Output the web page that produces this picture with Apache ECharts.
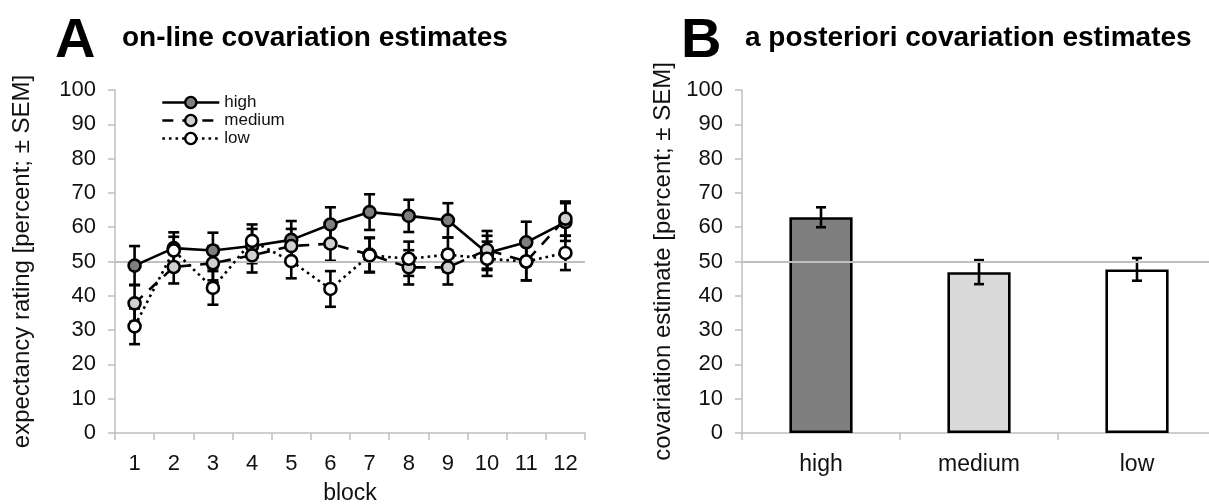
<!DOCTYPE html>
<html><head><meta charset="utf-8">
<script src="https://cdn.jsdelivr.net/npm/echarts@6/dist/echarts.min.js"></script>
<style>html,body{margin:0;padding:0;background:#fff}#c{width:1209px;height:504px}</style>
</head><body><div id="c"></div>
<script>
const blocks = ['1','2','3','4','5','6','7','8','9','10','11','12'];
const high = [48.8, 53.9, 53.2, 54.5, 56.3, 60.8, 64.4, 63.3, 62.0, 52.5, 55.6, 61.5];
const highErr = [5.7, 4.6, 5.2, 5.0, 5.5, 5.0, 5.2, 4.7, 5.0, 5.0, 6.0, 5.5];
const medium = [37.8, 48.4, 49.5, 51.8, 54.5, 55.2, 52.0, 48.3, 48.3, 53.4, 50.0, 62.5];
const mediumErr = [5.4, 4.8, 5.0, 5.0, 5.0, 5.0, 5.0, 5.0, 5.0, 5.5, 5.5, 5.0];
const low = [31.1, 53.2, 42.3, 56.0, 50.1, 42.0, 51.8, 50.8, 52.0, 50.8, 50.0, 52.5];
const lowErr = [5.2, 4.0, 4.9, 4.8, 5.0, 5.2, 5.0, 5.0, 5.0, 5.0, 5.5, 5.0];
const barCats = ['high','medium','low'];
const barVals = [62.9, 46.9, 47.7];
const barErr = [2.9, 3.5, 3.3];
const yTicks = [0,10,20,30,40,50,60,70,80,90,100];

const FONT = 'Liberation Sans, Arial, sans-serif';
const AX = '#bfbfbf';
const chart = echarts.init(document.getElementById('c'), null, {renderer:'canvas'});

function errData(vals, errs){ return vals.map((v,i)=>[i, v-errs[i], v+errs[i]]); }
function errSeries(vals, errs, xi, cap){
  return {
    type:'custom', xAxisIndex:xi, yAxisIndex:xi, z:3, silent:true,
    data: errData(vals, errs), encode:{x:0, y:[1,2]},
    renderItem: function(params, api){
      const x = api.value(0);
      const p1 = api.coord([x, api.value(1)]);
      const p2 = api.coord([x, api.value(2)]);
      const st = {stroke:'#000', lineWidth:2.6};
      return {type:'group', children:[
        {type:'line', shape:{x1:p1[0],y1:p1[1],x2:p2[0],y2:p2[1]}, style:st},
        {type:'line', shape:{x1:p1[0]-cap,y1:p1[1],x2:p1[0]+cap,y2:p1[1]}, style:st},
        {type:'line', shape:{x1:p2[0]-cap,y1:p2[1],x2:p2[0]+cap,y2:p2[1]}, style:st}
      ]};
    }
  };
}
function lineSeries(name, vals, fill, type){
  return {
    name, type:'line', xAxisIndex:0, yAxisIndex:0, data: vals, z:5,
    symbol:'circle', symbolSize:12,
    itemStyle:{color:fill, borderColor:'#000', borderWidth:2.6},
    lineStyle:{color:'#000', width:2.6, type:type},
    emphasis:{disabled:true}
  };
}
const yAxisCommon = {
  type:'value', min:0, max:100, interval:10,
  axisLine:{show:true, lineStyle:{color:AX, width:1.5}},
  axisTick:{show:true, length:7, lineStyle:{color:AX, width:1.5}},
  axisLabel:{color:'#111', fontSize:22, fontFamily:FONT, margin:19},
  splitLine:{show:false},
  nameLocation:'middle', nameRotate:90,
  nameTextStyle:{color:'#111', fontSize:24, fontFamily:FONT}
};
const ref50 = {silent:true, symbol:'none', label:{show:false},
  lineStyle:{color:AX, width:1.8, type:'solid'}, data:[{yAxis:50}]};

chart.setOption({
  animation:false,
  graphic:[
    {type:'text', left:55, top:14, style:{text:'A', font:'bold 56px '+FONT, fill:'#000'}},
    {type:'text', left:122, top:24, style:{text:'on-line covariation estimates', font:'bold 28px '+FONT, fill:'#000'}},
    {type:'text', left:681, top:14, style:{text:'B', font:'bold 56px '+FONT, fill:'#000'}},
    {type:'text', left:745, top:24, style:{text:'a posteriori covariation estimates', font:'bold 28px '+FONT, fill:'#000'}}
  ],
  legend:{
    data:['high','medium','low'], orient:'vertical', left:156, top:89,
    itemWidth:57, itemHeight:14, itemGap:1,
    lineStyle:{width:2.6}, itemStyle:{borderWidth:2.4},
    textStyle:{color:'#111', fontSize:17, fontFamily:FONT}, selectedMode:false
  },
  grid:[
    {left:115, top:90, width:470, height:343, outerBoundsMode:'none', containLabel:false},
    {left:742, top:90, width:474, height:343, outerBoundsMode:'none', containLabel:false}
  ],
  xAxis:[
    {type:'category', gridIndex:0, data:blocks, boundaryGap:true,
     axisLine:{lineStyle:{color:AX, width:1.5}},
     axisTick:{show:true, length:7, alignWithLabel:false, lineStyle:{color:AX, width:1.5}},
     axisLabel:{color:'#111', fontSize:22, fontFamily:FONT, margin:20},
     name:'block', nameLocation:'middle', nameGap:49,
     nameTextStyle:{color:'#111', fontSize:23, fontFamily:FONT}},
    {type:'category', gridIndex:1, data:barCats, boundaryGap:true,
     axisLine:{lineStyle:{color:AX, width:1.5}},
     axisTick:{show:true, length:7, lineStyle:{color:AX, width:1.5}},
     axisLabel:{color:'#111', fontSize:23, fontFamily:FONT, margin:20}}
  ],
  yAxis:[
    Object.assign({}, yAxisCommon, {gridIndex:0, name:'expectancy rating [percent; ± SEM]', nameGap:81}),
    Object.assign({}, yAxisCommon, {gridIndex:1, name:'covariation estimate [percent; ± SEM]', nameGap:67})
  ],
  series:[
    {type:'line', xAxisIndex:0, yAxisIndex:0, data:[], markLine:ref50, z:1, silent:true},
    errSeries(high, highErr, 0, 5.5),
    errSeries(medium, mediumErr, 0, 5.5),
    errSeries(low, lowErr, 0, 5.5),
    lineSeries('high', high, '#7f7f7f', 'solid'),
    lineSeries('medium', medium, '#d0d0d0', [11,9]),
    lineSeries('low', low, '#ffffff', [2.6,4]),
    {type:'bar', xAxisIndex:1, yAxisIndex:1, barWidth:'40%', z:2,
     data: barVals.map((v,i)=>({value:v, itemStyle:{color:['#7f7f7f','#d9d9d9','#ffffff'][i]}})),
     itemStyle:{borderColor:'#000', borderWidth:2.6},
     markLine:ref50, emphasis:{disabled:true}},
    errSeries(barVals, barErr, 1, 5)
  ]
});
</script></body></html>
